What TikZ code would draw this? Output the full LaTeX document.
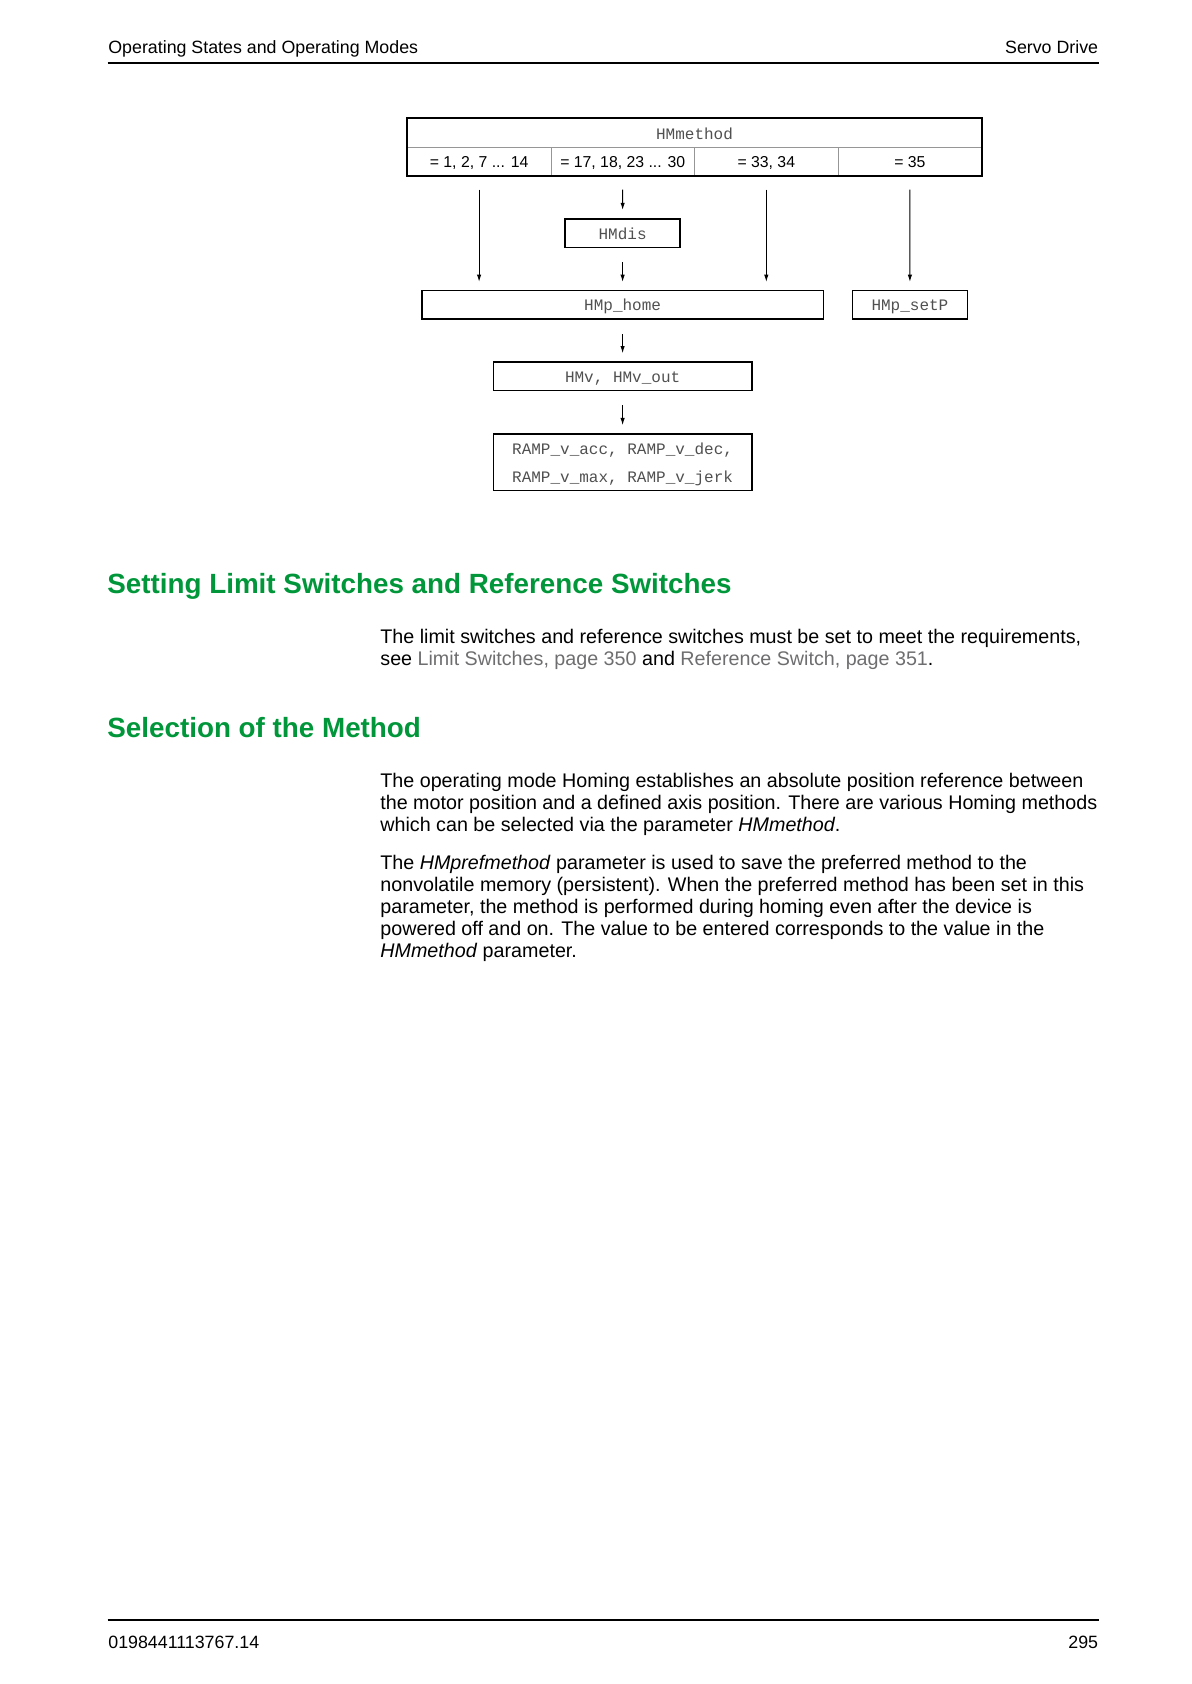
\documentclass[tikz,border=0pt]{standalone}
\usepackage{fontspec}
\setmainfont{Liberation Sans}
\setmonofont{Liberation Mono}
\usepackage{tikz}
\usetikzlibrary{arrows.meta,positioning}
\definecolor{headgreen}{RGB}{0,150,57}
\definecolor{linkgrey}{RGB}{110,110,112}
\definecolor{codegrey}{RGB}{80,80,80}
\definecolor{gridgrey}{RGB}{150,150,150}
\tikzset{
  parbox/.style={draw, line width=0.8pt, minimum height=14.3pt, inner sep=0pt, text height=6pt, text depth=0pt, text=codegrey, font=\ttfamily\fontsize{8}{14}\selectfont},
  cell/.style={draw=gridgrey, line width=0.4pt, minimum width=71.8pt, minimum height=14.35pt, inner sep=0pt, outer sep=0pt, text height=6.4pt, text depth=0pt, font=\fontsize{7.9}{9}\selectfont},
  flow/.style={-{Latex[length=3.6pt,width=2.2pt]}, line width=0.5pt, shorten <=7pt, shorten >=4pt},
  body/.style={anchor=base west, inner sep=0pt, align=left, font=\fontsize{9.85}{11}\selectfont},
  heading/.style={anchor=base west, inner sep=0pt, text=headgreen, font=\bfseries\fontsize{13.9}{15}\selectfont},
  pagetext/.style={inner sep=0pt, font=\fontsize{8.9}{11}\selectfont},
}

\begin{document}
\begin{tikzpicture}[x=0.5pt,y=-0.5pt]
\useasboundingbox (0,0) rectangle (1191,1684);
% page header
\node[pagetext,anchor=base west] (chapter) at (108,53.5) {Operating States and Operating Modes};
\node[pagetext,anchor=base east] (product) at (1098.5,53.5) {Servo Drive};
\draw[line width=1pt] (107.5,63) -- (1098.5,63);

% method table
\node[cell,minimum width=287.2pt,text=codegrey,font=\ttfamily\fontsize{8}{10}\selectfont] (method) at (694.5,132.65) {HMmethod};
\node[cell] (c1) at (479.1,161.35) {= 1, 2, 7 ... 14};
\node[cell,right=0pt of c1] (c2) {= 17, 18, 23 ... 30};
\node[cell,right=0pt of c2] (c3) {= 33, 34};
\node[cell,right=0pt of c3] (c4) {= 35};
\draw[line width=1pt] (method.north west) rectangle (c4.south east);

% parameter boxes
\node[parbox,minimum width=57.4pt] (dis) at (622.6,233.1) {HMdis};
\node[parbox,minimum width=200.8pt] (home) at (622.6,305) {HMp\_home};
\node[parbox,minimum width=57.5pt] (setp) at (909.9,305) {HMp\_setP};
\node[parbox,minimum width=129.3pt] (vel) at (622.6,376.4) {HMv, HMv\_out};
\node[parbox,minimum width=129.3pt,minimum height=28.2pt,text height=20pt,align=center] (ramp) at (622.6,462.2) {RAMP\_v\_acc, RAMP\_v\_dec,\\RAMP\_v\_max, RAMP\_v\_jerk};

\draw[flow] (c1.south) -- (c1.south |- home.north);
\draw[flow] (c2) -- (dis);
\draw[flow] (dis) -- (home);
\draw[flow] (c3.south) -- (c3.south |- home.north);
\draw[flow] (c4) -- (setp);
\draw[flow] (home) -- (vel);
\draw[flow] (vel) -- (ramp);

% text
\node[heading] (limits) at (107,593.5) {Setting Limit Switches and Reference Switches};
\node[body] (limitstext) at (380,665.5) {The limit switches and reference switches must be set to meet the requirements,\\see \textcolor{linkgrey}{Limit Switches, page 350} and \textcolor{linkgrey}{Reference Switch, page 351}.};
\node[heading] (selection) at (107,737.5) {Selection of the Method};
\node[body] (modetext) at (380,831) {The operating mode Homing establishes an absolute position reference between\\the motor position and a defined axis position. There are various Homing methods\\which can be selected via the parameter \textit{HMmethod}.};
\node[body] (preftext) at (380,957.5) {The \textit{HMprefmethod} parameter is used to save the preferred method to the\\nonvolatile memory (persistent). When the preferred method has been set in this\\parameter, the method is performed during homing even after the device is\\powered off and on. The value to be entered corresponds to the value in the\\\textit{HMmethod} parameter.};

% page footer
\draw[line width=1pt] (107.5,1620) -- (1098.5,1620);
\node[pagetext,anchor=base west] (docnumber) at (108,1648.5) {0198441113767.14};
\node[pagetext,anchor=base east] (pagenumber) at (1098.5,1648.5) {295};
\end{tikzpicture}
\end{document}
